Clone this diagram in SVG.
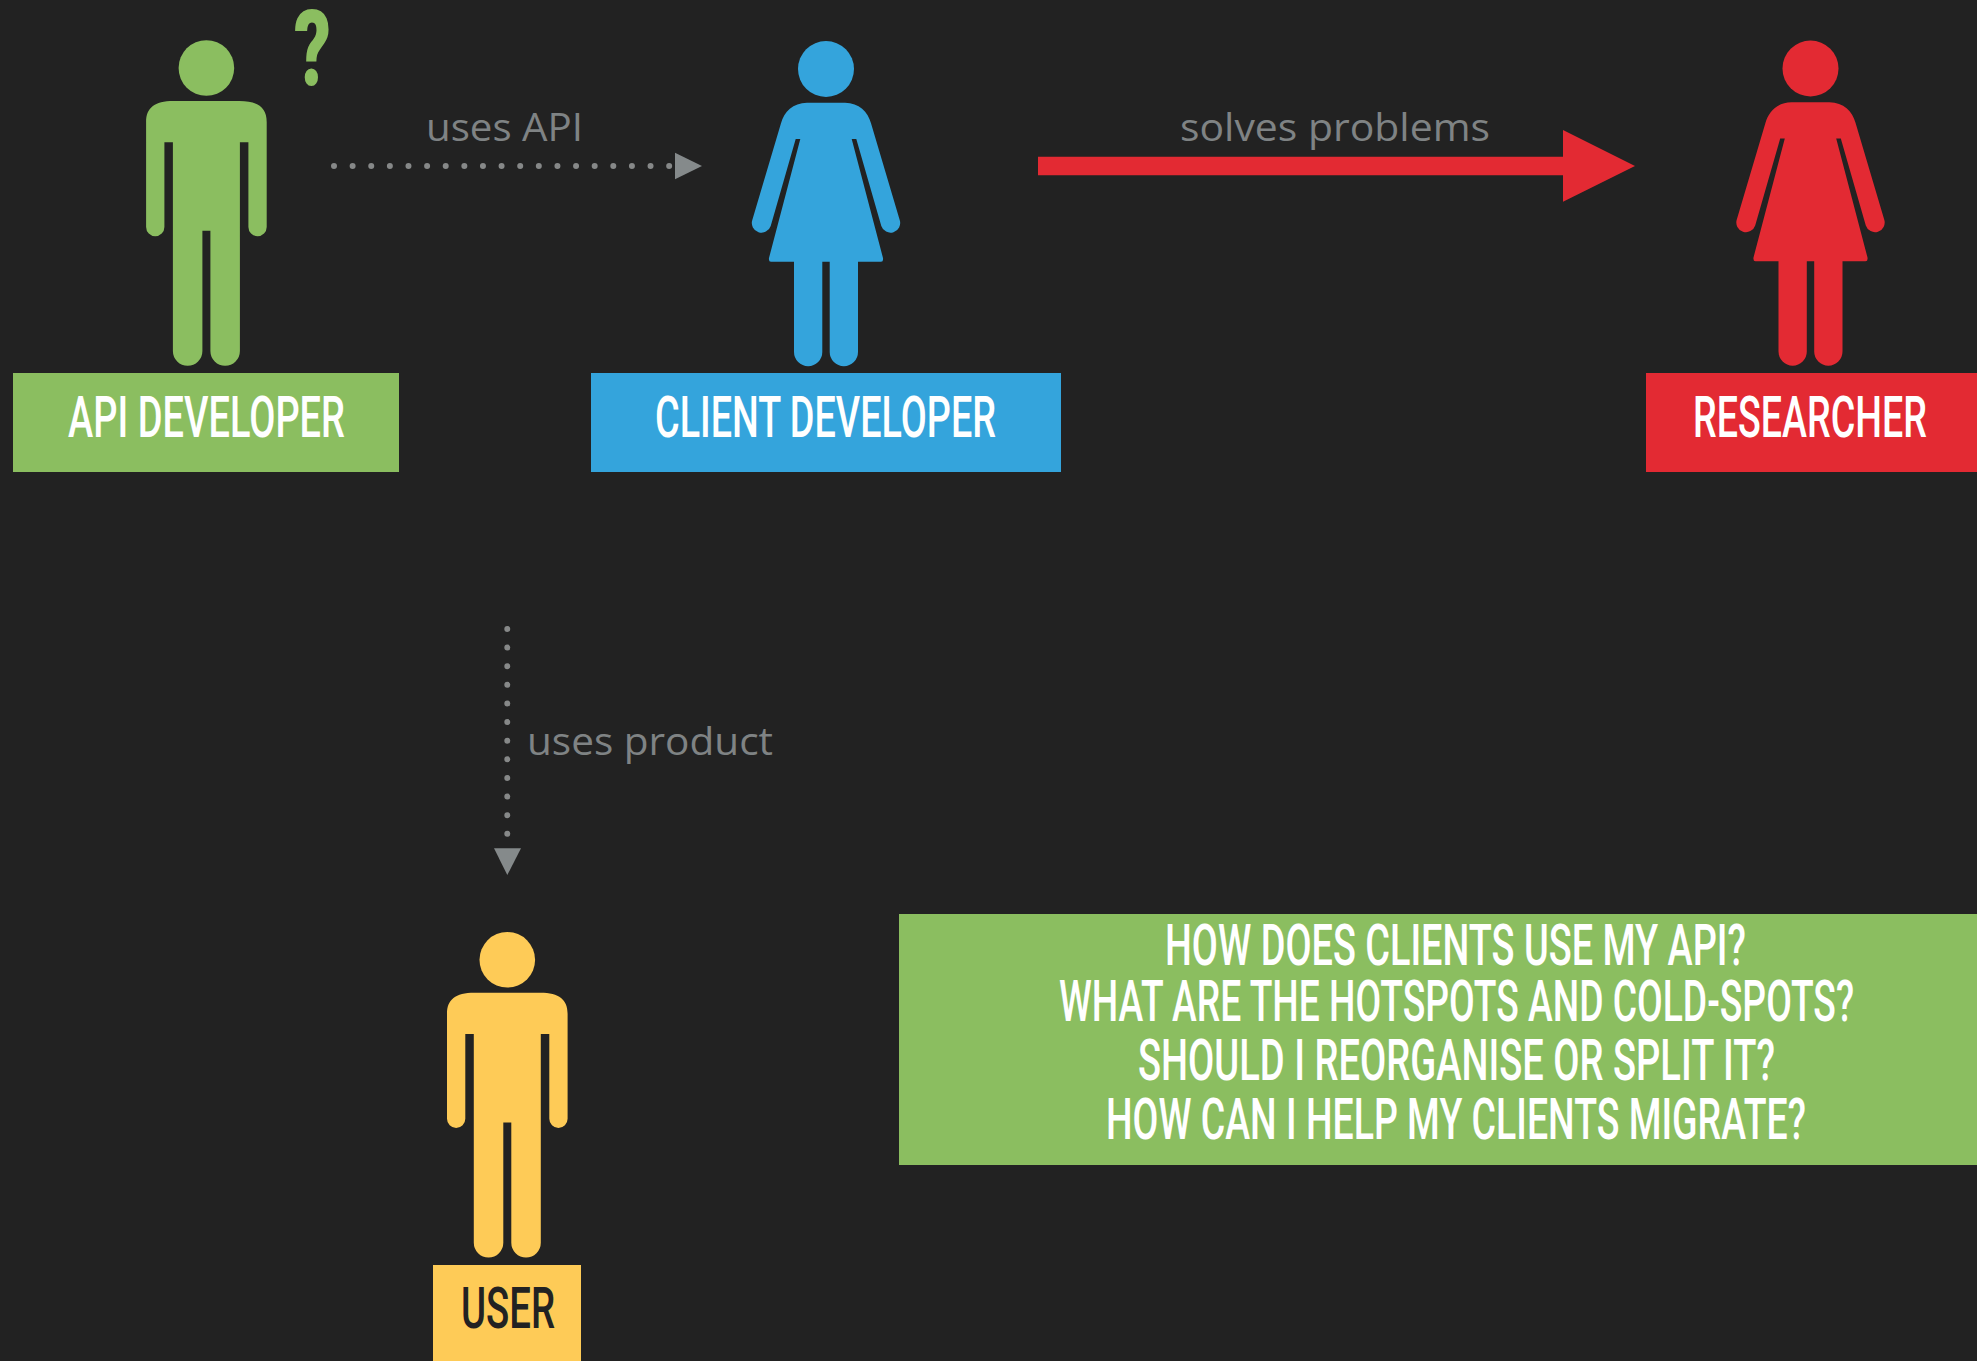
<svg xmlns="http://www.w3.org/2000/svg" xmlns:xlink="http://www.w3.org/1999/xlink" width="1977" height="1361" viewBox="0 0 1977 1361">
<style>
.title{font-family:"Roboto","Liberation Sans",sans-serif;font-weight:550;font-size:57px;fill:#fff;text-anchor:start}
.edge{font-family:"Open Sans","Lato",sans-serif;font-weight:400;font-size:39px;fill:#7f8384}
.dots{fill:none;stroke:#868888;stroke-width:6;stroke-linecap:round;stroke-dasharray:0 18.62}
.tip{fill:#858a8b}
.green{fill:#8bbe60}.blue{fill:#34a4dc}.red{fill:#e32a33}.yellow{fill:#fecb57}
</style>
<defs>
<g id="man"><circle cx="0" cy="68" r="27.8"/><path d="M-33 101H33C52 101 60.3 108 60.3 122V227A9.15 9.15 0 0 1 42 227V142.3H33.5V351A14.75 14.75 0 0 1 4 351V230.7H-4V351A14.75 14.75 0 0 1-33.5 351V142.3H-42V227A9.15 9.15 0 0 1-60.3 227V122C-60.3 108-52 101-33 101Z"/></g>
<g id="woman"><circle cx="0" cy="69" r="28"/><path d="M-19 102.7H19C33 102.7 42 112 45 123.3L73.7 220A9.6 9.6 0 0 1 55.3 226L30.3 139H25.7L57 258Q57.5 261.7 55 261.7H32V352A14.15 14.15 0 0 1 3.7 352V261.7H-3.7V352A14.15 14.15 0 0 1-32 352V261.7H-55Q-57.5 261.7-57 258L-25.7 139H-30.3L-55.3 226A9.6 9.6 0 0 1-73.7 220L-45 123.3C-42 112-33 102.7-19 102.7Z"/></g>
</defs>
<rect width="1977" height="1361" fill="#222222"/>
<g id="api-developer" class="green">
<use href="#man" x="206.4" y="0"/>
<text x="294" y="85" font-family="Roboto,sans-serif" font-weight="900" font-size="105" textLength="37" lengthAdjust="spacingAndGlyphs">?</text>
<rect x="13" y="373" width="386" height="99"/>
<text class="title" x="68" y="437" textLength="277" lengthAdjust="spacingAndGlyphs">API DEVELOPER</text>
</g>
<g id="client-developer" class="blue">
<use href="#woman" x="826" y="0"/>
<rect x="591" y="373" width="470" height="99"/>
<text class="title" x="655" y="437" textLength="341" lengthAdjust="spacingAndGlyphs">CLIENT DEVELOPER</text>
</g>
<g id="researcher" class="red">
<use href="#woman" x="1810.5" y="-0.5"/>
<rect x="1646" y="373" width="331" height="99"/>
<text class="title" x="1693" y="437" textLength="234" lengthAdjust="spacingAndGlyphs">RESEARCHER</text>
</g>
<g id="user" class="yellow">
<use href="#man" x="507.3" y="891.8"/>
<rect x="433" y="1265" width="148" height="96"/>
<text class="title" x="461" y="1328" textLength="94" lengthAdjust="spacingAndGlyphs" style="fill:#222222">USER</text>
</g>
<g id="questions">
<rect class="green" x="899" y="914" width="1078" height="251"/>
<text class="title" x="1165" y="965" textLength="581" lengthAdjust="spacingAndGlyphs">HOW DOES CLIENTS USE MY API?</text>
<text class="title" x="1059" y="1021" textLength="795" lengthAdjust="spacingAndGlyphs">WHAT ARE THE HOTSPOTS AND COLD-SPOTS?</text>
<text class="title" x="1138" y="1080" textLength="637" lengthAdjust="spacingAndGlyphs">SHOULD I REORGANISE OR SPLIT IT?</text>
<text class="title" x="1106" y="1139" textLength="700" lengthAdjust="spacingAndGlyphs">HOW CAN I HELP MY CLIENTS MIGRATE?</text>
</g>
<g id="connectors">
<path class="dots" d="M334 166H670"/>
<path class="tip" d="M675 152.7L702 166L675 179.3Z"/>
<text class="edge" x="426" y="141" textLength="157" lengthAdjust="spacingAndGlyphs">uses API</text>
<path class="red" d="M1038 156.7H1563V130L1635 166L1563 201.7V175.3H1038Z"/>
<text class="edge" x="1180" y="141" textLength="310" lengthAdjust="spacingAndGlyphs">solves problems</text>
<path class="dots" d="M507.3 629V834"/>
<path class="tip" d="M494 848.3H521L507.3 875Z"/>
<text class="edge" x="527" y="755" textLength="246" lengthAdjust="spacingAndGlyphs">uses product</text>
</g>
</svg>
